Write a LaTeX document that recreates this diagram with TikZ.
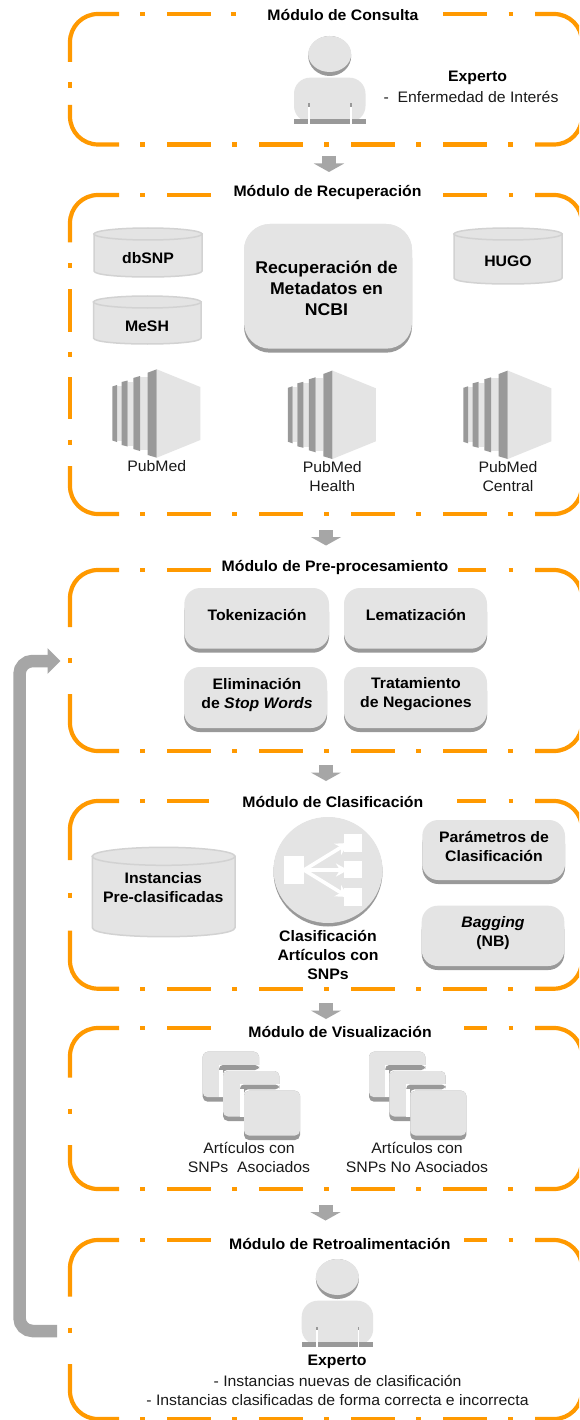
\documentclass[tikz,border=0pt]{standalone}
\usepackage{fontspec}
\setmainfont[FakeStretch=1.04]{Liberation Sans}
\usetikzlibrary{arrows.meta}
\definecolor{lightg}{HTML}{E4E4E4}
\definecolor{darkg}{HTML}{999999}
\definecolor{arrowg}{HTML}{A6A6A6}
\definecolor{cylg}{HTML}{D2D2D2}
\definecolor{orng}{HTML}{FF9900}
\definecolor{inkc}{HTML}{1A1A1A}
\tikzset{
  orangeline/.style={draw=orng,line width=4.2pt,line cap=butt,rounded corners=28pt},
  titletext/.style={inner sep=0pt,text=black,font=\fontsize{15.2}{19}\selectfont\bfseries,align=center},
  boldtext/.style={inner sep=0pt,text=black,font=\fontsize{15.2}{19}\selectfont\bfseries,align=center},
  bigtext/.style={inner sep=0pt,text=black,font=\fontsize{17}{21}\selectfont\bfseries,align=center},
  plaintext/.style={inner sep=0pt,text=inkc,font=\fontsize{15.2}{19}\selectfont,align=center},
  downarrow/.style={draw=arrowg,line width=14pt,-{Triangle[length=8.5pt,width=30pt]}},
  backarrow/.style={draw=arrowg,line width=12.5pt,rounded corners=13pt,-{Triangle[length=13pt,width=25pt]}},
  iconarrow/.style={draw=white,line width=3.6pt,-{Stealth[length=12pt,width=13pt]}}
}
% top bottom firstEnd lastStart vertical-list top-list
\newcommand{\modbox}[6]{
  \draw[orangeline] (119,#1)--(70,#1)--(70,#3);
  \draw[orangeline] (70,#4)--(70,#2)--(119,#2);
  \foreach \a/\b in {#5}{\draw[orangeline] (70,\a)--(70,\b);}
  \foreach \a/\b in {#6}{\draw[orangeline] (\a,#1)--(\b,#1);}
  \draw[orangeline] (535,#1)--(582,#1)--(582,#1+34);
  \draw[orangeline] (582,#2-34)--(582,#2)--(535,#2);
  \foreach \k in {0,1,2,3,4}{
    \draw[orangeline] (140+92*\k,#2)--(145+92*\k,#2);}
  \foreach \k in {0,1,2,3}{
    \draw[orangeline] (167+92*\k,#2)--(211+92*\k,#2);}
}
\newcommand{\tdbox}[5]{
  \fill[darkg,rounded corners=#5pt] (#1,#2+8)rectangle(#3,#4);
  \fill[lightg,rounded corners=#5pt] (#1,#2)rectangle(#3,#4-4);
}
% x0 x1 top bottom ry
\newcommand{\cyl}[5]{
  \pgfmathsetmacro{\cmx}{(#1+#2)/2}
  \pgfmathsetmacro{\crx}{(#2-#1)/2}
  \pgfmathsetmacro{\cya}{#3+#5}
  \pgfmathsetmacro{\cyb}{#4-#5}
  \pgfmathsetmacro{\cyc}{#4+#5/3}
  \draw[draw=cylg,fill=lightg,line width=1.5pt] (#1,\cya)--(#1,\cyb) .. controls (#1,\cyc) and (#2,\cyc) .. (#2,\cyb)--(#2,\cya)--cycle;
  \draw[draw=cylg,fill=lightg,line width=1.5pt] (\cmx,\cya) ellipse [x radius=\crx,y radius=#5];
}
\newcommand{\serverbox}[2]{
  \begin{scope}[shift={(#1,#2)}]
    \fill[lightg] (0,-44.2)--(43.6,-26.5)--(43.6,26.5)--(0,44.2)--cycle;
    \fill[lightg] (-16.7,-36.5)rectangle(-9,36.5);
    \fill[lightg] (-29,-32)rectangle(-23.4,32);
    \fill[lightg] (-39.7,-27.5)rectangle(-35,27.5);
    \fill[darkg] (-9,-40.8)--(0,-44.2)--(0,44.2)--(-9,41.5)--cycle;
    \fill[darkg] (-23.4,-35.5)--(-16.7,-37.5)--(-16.7,37.5)--(-23.4,35.5)--cycle;
    \fill[darkg] (-35,-31.5)--(-29,-33)--(-29,33)--(-35,31.5)--cycle;
    \fill[darkg] (-44.4,-27)--(-39.7,-28.5)--(-39.7,28.5)--(-44.4,27)--cycle;
  \end{scope}
}
\newcommand{\personicon}[2]{
  \begin{scope}[shift={(#1,#2)}]
    \fill[darkg] (329.7,56) ellipse [x radius=21.5,y radius=20];
    \fill[lightg] (329.7,54) ellipse [x radius=21.5,y radius=18];
    \fill[lightg,rounded corners=16pt] (294,122)--(294,77.7)--(365.5,77.7)--(365.5,122)--cycle;
    \fill[darkg] (294,119.3)rectangle(365.5,124);
    \fill[white] (308.3,107)rectangle(310.2,124);
    \fill[white] (349.8,107)rectangle(351.7,124);
    \fill[darkg] (308.3,103.5)rectangle(310.2,107);
    \fill[darkg] (349.8,103.5)rectangle(351.7,107);
  \end{scope}
}
\newcommand{\docbox}[4]{
  \fill[darkg,rounded corners=5pt] (#1,#2)rectangle(#3,#4);
  \fill[lightg,rounded corners=5pt] (#1,#2)rectangle(#3,#4-4.5);
}
\newcommand{\docstack}[1]{
  \begin{scope}[shift={(#1,0)}]
    \docbox{202.7}{1051.7}{259}{1101.7}
    \fill[white] (219,1065)rectangle(260,1097.2);
    \fill[darkg,rounded corners=4pt] (219,1085)--(219,1065)--(259,1065)--(259,1070)--(223,1070)--(223,1085)--cycle;
    \fill[white] (219,1070)rectangle(223,1097.2);
    \docbox{223}{1071}{279.3}{1121}
    \fill[white] (240,1084)rectangle(281,1116.5);
    \fill[darkg,rounded corners=4pt] (240,1100)--(240,1084.5)--(279.3,1084.5)--(279.3,1089.3)--(244,1089.3)--(244,1100)--cycle;
    \fill[white] (240,1089.3)rectangle(244,1116.5);
    \docbox{244}{1090.7}{300}{1140}
  \end{scope}
}
\begin{document}
\begin{tikzpicture}[x=1pt,y=-1pt]
\useasboundingbox (0,0) rectangle (579,1420);
\clip (0,0) rectangle (579,1420);
\fill[white] (0,0) rectangle (579,1420);

% module frames
\modbox{14}{144.5}{62}{105}{82/88}{140/145,167/210.5,231/235.5,443/487,508.5/513}
\modbox{195}{514}{242.5}{466}{263.5/268.5,289.3/331.7,351.5/356.5,377/419,439.5/444.5}{140/145,167/210.5,443/487,508.5/513}
\modbox{570}{751}{627}{694}{658/663}{140/145,167/211,458/486,508.5/513}
\modbox{801}{988.7}{860}{930.7}{892.5/897.5}{140/145,167/209,457/486,508.5/513}
\modbox{1028}{1189}{1077.7}{1145}{1108.5/1113.5}{140/145,167/211,464/487,508.5/513}
\modbox{1240}{1419}{1296.7}{1364}{1327.5/1332.5}{140/145,167/210.5,464/487,508.5/513}

% titles
\node[titletext] (t1) at (343,15) {Módulo de Consulta};
\node[titletext] (t2) at (327.5,192.5) {Módulo de Recuperación};
\node[titletext] (t3) at (335,567.5) {Módulo de Pre-procesamiento};
\node[titletext] (t4) at (332.8,802) {Módulo de Clasificación};
\node[titletext] (t5) at (340,1031.5) {Módulo de Visualización};
\node[titletext] (t6) at (339.8,1243.5) {Módulo de Retroalimentación};

% module 1
\personicon{0}{0}
\node[boldtext] (exp1) at (477.5,78) {Experto};
\node[plaintext] (enf) at (471,97) {-\ \ Enfermedad de Interés};

% module 2
\cyl{94}{202}{228}{277}{6}
\node[boldtext] (dbsnp) at (148,258.5) {dbSNP};
\cyl{93.5}{201}{296}{344}{6}
\node[boldtext] (mesh) at (147,326.5) {MeSH};
\cyl{454}{562}{228}{284}{6}
\node[boldtext] (hugo) at (508,261.5) {HUGO};
\tdbox{244}{224}{412}{352.7}{26}
\fill[lightg,rounded corners=26pt] (244,224)rectangle(412,345);
\node[bigtext] (ncbi) at (326.5,288) {Recuperación de\\Metadatos en\\NCBI};
\serverbox{156.7}{413.5}
\serverbox{332.3}{414.8}
\serverbox{507.7}{414.8}
\node[plaintext] (pm1) at (156.7,466) {PubMed};
\node[plaintext] (pm2) at (332.3,476.5) {PubMed\\Health};
\node[plaintext] (pm3) at (508,476.5) {PubMed\\Central};

% module 3
\tdbox{184.3}{588}{329}{652.7}{16}
\tdbox{344}{588}{487}{652.7}{16}
\tdbox{184}{667}{327}{732}{16}
\tdbox{344}{667}{487}{732}{16}
\node[boldtext] (tok) at (257,614.5) {Tokenización};
\node[boldtext] (lem) at (416,614.5) {Lematización};
\node[boldtext] (sw) at (257,694.5) {Eliminación\\de \textit{Stop Words}};
\node[boldtext] (neg) at (416,694.5) {Tratamiento\\de Negaciones};

% module 4
\cyl{92.3}{235}{847.3}{936.7}{9}
\node[boldtext] (inst) at (163.3,888) {Instancias\\Pre-clasificadas};
\fill[darkg] (328,872) circle [radius=54.5];
\fill[lightg] (328,870) ellipse [x radius=54.5,y radius=53];
\fill[white] (284,855.7) rectangle (304,884.3);
\fill[white] (344.3,834) rectangle (362.3,851.7);
\fill[white] (344.3,861) rectangle (362.3,878.3);
\fill[white] (344.3,888.3) rectangle (362.3,906);
\coordinate (icS) at (304,870);
\coordinate (icA) at (348,843);
\coordinate (icB) at (348,870);
\coordinate (icC) at (348,897);
\draw[iconarrow] (icS) -- (icA);
\draw[iconarrow] (icS) -- (icB);
\draw[iconarrow] (icS) -- (icC);
\node[boldtext] (cla) at (328,954.5) {Clasificación\\Artículos con\\SNPs};
\tdbox{422.3}{820}{565}{884}{16}
\tdbox{421.7}{905.7}{564.3}{970}{16}
\node[boldtext] (par) at (494,846.5) {Parámetros de\\Clasificación};
\node[boldtext] (bag) at (493,933) {\textit{Bagging}\\(NB)};

% module 5
\docstack{0}
\docstack{166.3}
\node[plaintext] (ar1) at (249,1157.5) {Artículos con\\SNPs\ \ Asociados};
\node[plaintext] (ar2) at (417,1157.5) {Artículos con\\SNPs No Asociados};

% module 6
\personicon{7.7}{1223}
\node[boldtext] (exp2) at (337,1361.5) {Experto};
\node[plaintext] (ins) at (337.5,1390) {- Instancias nuevas de clasificación\\- Instancias clasificadas de forma correcta e incorrecta};

% flow arrows
\coordinate (d1s) at (329,156); \coordinate (d1e) at (329,172);
\coordinate (d2s) at (326,530); \coordinate (d2e) at (326,545.5);
\coordinate (d3s) at (326,765); \coordinate (d3e) at (326,781);
\coordinate (d4s) at (326,1003); \coordinate (d4e) at (326,1019);
\coordinate (d5s) at (325.5,1205); \coordinate (d5e) at (325.5,1220.5);
\draw[downarrow] (d1s) -- (d1e);
\draw[downarrow] (d2s) -- (d2e);
\draw[downarrow] (d3s) -- (d3e);
\draw[downarrow] (d4s) -- (d4e);
\draw[downarrow] (d5s) -- (d5e);
\coordinate (fbS) at (57,1331);
\coordinate (fbE) at (60.5,661);
\draw[backarrow] (fbS) -- (19.5,1331) -- (19.5,661) -- (fbE);
\end{tikzpicture}
\end{document}
